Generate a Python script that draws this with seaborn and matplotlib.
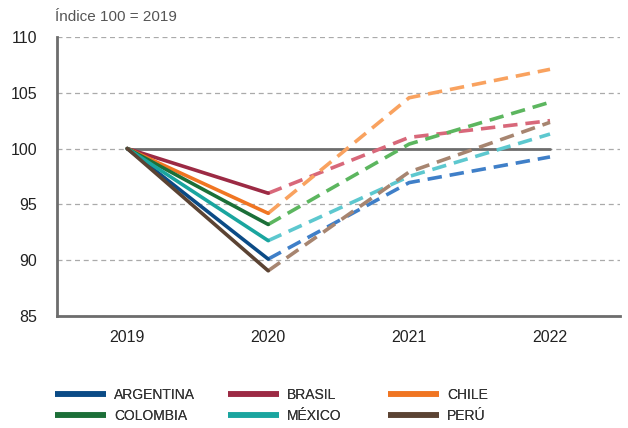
import pandas as pd
import matplotlib.pyplot as plt
import seaborn as sns
from matplotlib.lines import Line2D

years = [2019, 2020, 2021, 2022]
countries = ["ARGENTINA", "BRASIL", "CHILE", "COLOMBIA", "MÉXICO", "PERÚ"]
argentina = [100, 90.1, 96.95, 99.25]
brasil = [100, 96.0, 101.0, 102.5]
chile = [100, 94.2, 104.55, 107.1]
colombia = [100, 93.2, 100.4, 104.15]
mexico = [100, 91.75, 97.5, 101.3]
peru = [100, 89.05, 97.9, 102.35]
dark_colors = ["#0b4b86", "#9c2a44", "#f07522", "#1c6f38", "#1aa59f", "#5b4333"]
light_colors = ["#3f7fc8", "#d8687a", "#f9a25f", "#5cb65f", "#5dc8cf", "#a78570"]

series = dict(zip(countries, [argentina, brasil, chile, colombia, mexico, peru]))
rows = []
for c, vals in series.items():
    for y, v in zip(years, vals):
        rows.append({"Country": c, "Year": y, "Index": v})
df = pd.DataFrame(rows)

sns.set_style("white")
plt.rcParams["font.family"] = ["Liberation Sans", "DejaVu Sans"]

fig = plt.figure(figsize=(6.28, 4.28), dpi=100)
ax = fig.add_axes([0.0905, 0.2617, 0.8975, 0.652])

for y in [85, 90, 95, 100, 105, 110]:
    ax.axhline(y, color="#aaaaaa", lw=0.9, ls=(0, (4, 3)), zorder=0)
ax.plot([2019, 2022], [100, 100], color="#6d6d6d", lw=2, zorder=1)

real = df[df["Year"] <= 2020]
proj = df[df["Year"] >= 2020]
sns.lineplot(data=real, x="Year", y="Index", hue="Country", hue_order=countries,
             palette=dark_colors, lw=2.6, legend=False, ax=ax, zorder=3)
sns.lineplot(data=proj, x="Year", y="Index", hue="Country", hue_order=countries,
             palette=light_colors, lw=2.6, legend=False, ax=ax, zorder=2)
for ln in ax.lines[-6:]:
    ln.set_dashes((4, 2.2))

ax.set_xlim(2018.5, 2022.5)
ax.set_ylim(85, 110)
ax.set_yticks([85, 90, 95, 100, 105, 110])
ax.set_xticks(years)
ax.set_xticks([2019.5, 2020.5, 2021.5], minor=True)
ax.tick_params(axis="x", which="major", length=0, pad=10, labelsize=11.5, colors="#222222")
ax.tick_params(axis="x", which="minor", length=5, direction="in", color="#6d6d6d", width=0.8)
ax.tick_params(axis="y", length=0, pad=14, labelsize=11.5, colors="#222222")
ax.set_xlabel("")
ax.set_ylabel("")
for s in ["top", "right"]:
    ax.spines[s].set_visible(False)
for s in ["left", "bottom"]:
    ax.spines[s].set_color("#6d6d6d")
    ax.spines[s].set_linewidth(2)

fig.text(0.0876, 0.960, "Índice 100 = 2019", fontsize=11, color="#555555", ha="left", va="center")

# three legend columns, placed individually
col_x = [0.0876, 0.363, 0.618]
for k, x in enumerate(col_x):
    idx = [k, k + 3]
    hs = [Line2D([], [], color=dark_colors[i], lw=4, solid_capstyle="butt") for i in idx]
    leg = fig.legend(hs, [countries[i] for i in idx], loc="center left",
                     bbox_to_anchor=(x, 0.0526), frameon=False, borderpad=0,
                     borderaxespad=0, handlelength=3.7, handletextpad=0.55,
                     labelspacing=0.55, prop={"size": 10}, labelcolor="#333333")
    fig.add_artist(leg)

fig.savefig("out.png", dpi=100)
